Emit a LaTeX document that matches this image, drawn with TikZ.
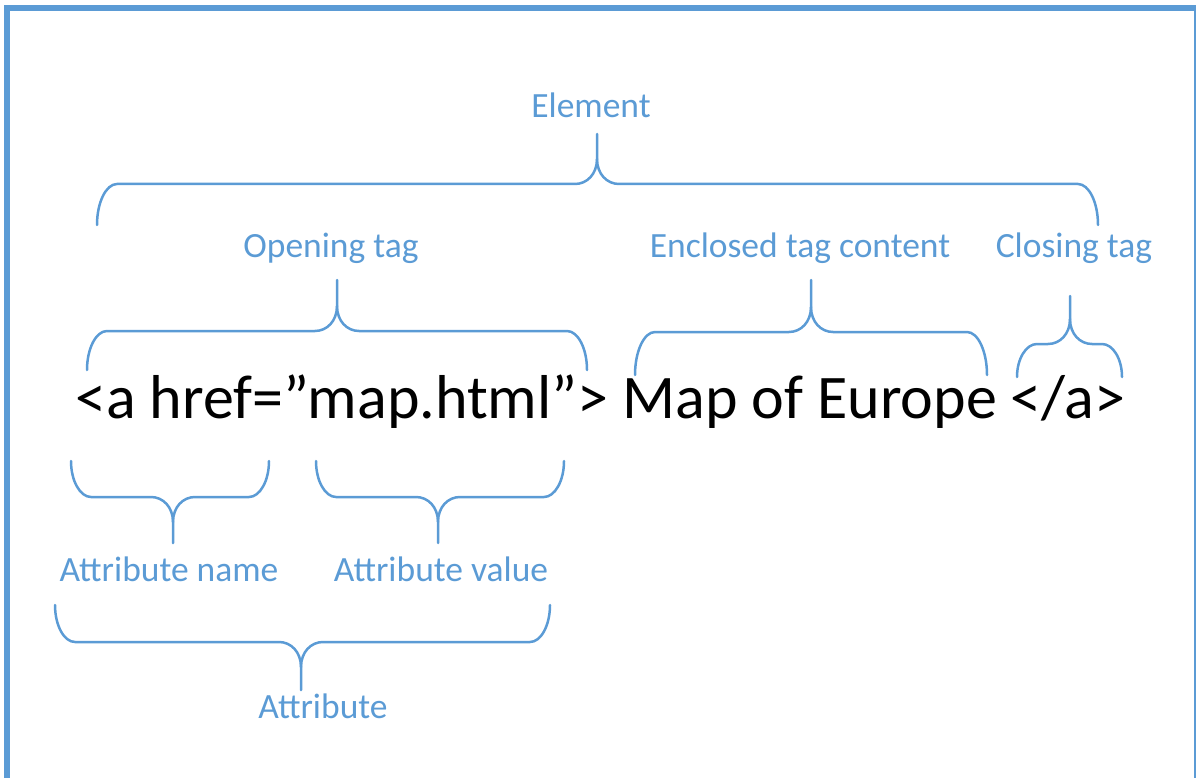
\documentclass[tikz,border=0pt]{standalone}
\usepackage{fontspec}
\setmainfont{Carlito}
\definecolor{accent}{HTML}{5B9BD5}
\tikzset{
  bracepath/.style={draw=accent, line width=2.5pt, line cap=round},
  lbl/.style={text=accent, font=\fontsize{35.5}{40}\selectfont, inner sep=0pt, anchor=base},
  codetext/.style={text=black, font=\fontsize{62}{68}\selectfont, inner sep=0pt, anchor=base west},
  frameline/.style={draw=accent, line width=6pt}
}
% #1 x left, #2 x right, #3 y of ends, #4 y of line, #5 x of tip, #6 y of tip
\newcommand\mybrace[6]{%
  \pgfmathsetmacro\bs{sign(#3-#4)}%
  \draw[bracepath] (#1,#3) .. controls (#1,{#4+0.45*(#3-#4)}) and ({#1+9},#4) .. ({#1+20},#4)
    -- ({#5-22},#4) .. controls ({#5-10},#4) and (#5,{#4-\bs*10}) .. (#5,{#4-\bs*25}) -- (#5,#6);
  \draw[bracepath] (#2,#3) .. controls (#2,{#4+0.45*(#3-#4)}) and ({#2-9},#4) .. ({#2-20},#4)
    -- ({#5+22},#4) .. controls ({#5+10},#4) and (#5,{#4-\bs*10}) .. (#5,{#4-\bs*25});
}
\begin{document}
\begin{tikzpicture}[x=1pt,y=-1pt]
\useasboundingbox (0,0) rectangle (1196,778);
\begin{scope}
\clip (0,0) rectangle (1196,778);
\draw[frameline] (7,800) -- (7,8) -- (1197,8) -- (1197,800);
\end{scope}

% labels
\node[lbl] (element) at (591,118) {Element};
\node[lbl] (opening) at (331,257) {Opening tag};
\node[lbl] (enclosed) at (800,257) {Enclosed tag content};
\node[lbl] (closing) at (1074,257) {Closing tag};
\node[lbl] (attrname) at (169,581) {Attribute name};
\node[lbl] (attrvalue) at (441,581) {Attribute value};
\node[lbl] (attribute) at (323,718) {Attribute};

% code line
\node[codetext] (code) at (75,418) {<a href=”map.html”> Map of Europe </a>};

% braces
\mybrace{97}{1098}{225}{184}{597}{134}
\mybrace{87}{587}{370}{331}{337}{280}
\mybrace{635}{987}{375}{332}{811}{280}
\mybrace{1017}{1122}{377}{344}{1070}{296}
\mybrace{71}{269}{461}{497}{173}{543}
\mybrace{316}{564}{461}{497}{438}{543}
\mybrace{55}{550}{605}{642}{301}{690}
\end{tikzpicture}
\end{document}
